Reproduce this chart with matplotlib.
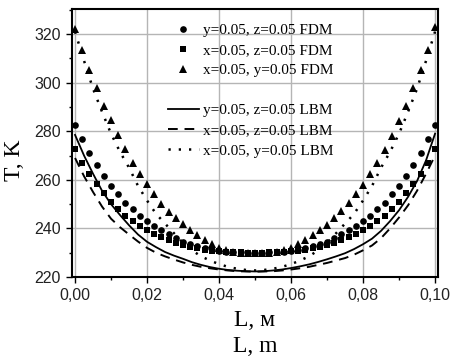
import matplotlib
matplotlib.use('Agg')
import matplotlib.pyplot as plt
import numpy as np
from matplotlib.lines import Line2D
from matplotlib.ticker import FuncFormatter, MultipleLocator

# FDM points, step 0.002 m
L_FDM = np.linspace(0.0, 0.1, 51)
T_FDM_YZ = [282.5, 276.7, 271.0, 266.1, 261.6, 257.6, 254.3, 250.6, 247.8, 245.3,
            242.9, 241.2, 239.2, 237.6, 235.9, 234.6, 233.5, 232.6, 231.9, 231.3,
            230.8, 230.5, 230.2, 230.1, 230.0, 230.0, 230.0, 230.1, 230.2, 230.5,
            230.8, 231.3, 231.9, 232.6, 233.5, 234.6, 235.9, 237.6, 239.2, 241.2,
            242.9, 245.3, 247.8, 250.6, 254.3, 257.6, 261.6, 266.1, 271.0, 276.7, 282.5]
T_FDM_XZ = [272.7, 266.9, 262.4, 258.4, 254.7, 251.0, 247.8, 245.3, 242.9, 240.8,
            239.2, 237.8, 236.4, 235.2, 234.1, 233.2, 232.4, 231.8, 231.3, 230.9,
            230.6, 230.4, 230.2, 230.1, 230.0, 230.0, 230.0, 230.1, 230.2, 230.4,
            230.6, 230.9, 231.3, 231.8, 232.4, 233.2, 234.1, 235.2, 236.4, 237.8,
            239.2, 240.8, 242.9, 245.3, 247.8, 251.0, 254.7, 258.4, 262.4, 266.9, 272.7]
T_FDM_XY = [322.0, 313.5, 305.3, 298.0, 290.6, 284.5, 278.4, 272.7, 267.0, 262.4,
            258.2, 254.3, 250.2, 246.9, 244.1, 241.9, 239.5, 237.4, 235.4, 233.7,
            232.1, 231.0, 230.3, 230.0, 229.8, 229.7, 229.8, 230.0, 230.3, 231.0,
            232.1, 233.7, 235.4, 237.4, 239.5, 241.6, 244.4, 247.3, 250.3, 254.2,
            258.0, 262.3, 267.0, 272.2, 278.0, 284.1, 290.6, 298.0, 305.3, 313.5, 323.0]

# LBM curves, step 0.0025 m
L_LBM = np.linspace(0.0, 0.1, 41)
T_LBM_YZ = [278.5, 270.0, 262.5, 255.5, 250.0, 245.5, 241.3, 237.5, 234.5, 232.3,
            230.3, 228.8, 227.5, 226.1, 225.0, 224.1, 223.4, 222.9, 222.6, 222.4,
            222.3, 222.4, 222.7, 223.1, 223.7, 224.4, 225.2, 226.2, 227.3, 228.5,
            229.8, 231.5, 233.5, 235.8, 239.0, 243.0, 247.5, 253.0, 259.5, 268.0, 279.0]
T_LBM_XZ = [269.0, 261.5, 255.0, 249.0, 244.0, 240.5, 237.5, 234.6, 232.0, 230.0,
            228.5, 227.2, 226.0, 225.0, 224.2, 223.6, 223.1, 222.7, 222.4, 222.3,
            222.2, 222.3, 222.4, 222.7, 223.1, 223.6, 224.2, 225.0, 225.8, 226.8,
            227.8, 229.2, 231.0, 233.0, 236.0, 240.0, 244.5, 249.5, 255.5, 262.5, 270.0]
T_LBM_XY = [321.0, 309.0, 297.5, 288.0, 279.0, 271.5, 265.0, 257.5, 251.5, 246.0,
            242.0, 238.0, 234.0, 231.0, 228.5, 226.8, 225.3, 224.2, 223.4, 222.9,
            222.7, 222.9, 223.4, 224.2, 225.3, 226.8, 228.5, 231.0, 234.0, 238.0,
            242.0, 246.0, 251.5, 257.5, 265.0, 271.5, 279.0, 288.0, 297.5, 309.0, 321.0]

FDM_LABELS = ['y=0.05, z=0.05 FDM', 'x=0.05, z=0.05 FDM', 'x=0.05, y=0.05 FDM']
LBM_LABELS = ['y=0.05, z=0.05 LBM', 'x=0.05, z=0.05 LBM', 'x=0.05, y=0.05 LBM']

SERIF = 'Liberation Serif'
SANS = 'Liberation Sans'

fig = plt.figure(figsize=(4.51, 3.57), dpi=100)
ax = fig.add_axes([0.160, 0.224, 0.811, 0.752])

ax.plot(L_FDM, T_FDM_YZ, 'o', color='black', ms=4.8, mew=0, label=FDM_LABELS[0], zorder=3)
ax.plot(L_FDM, T_FDM_XZ, 's', color='black', ms=4.2, mew=0, label=FDM_LABELS[1], zorder=3)
ax.plot(L_FDM, T_FDM_XY, '^', color='black', ms=5.6, mew=0, label=FDM_LABELS[2], zorder=3)
ax.plot(L_LBM, T_LBM_YZ, '-', color='black', lw=1.3, label=LBM_LABELS[0], zorder=2)
ax.plot(L_LBM, T_LBM_XZ, color='black', lw=1.4, linestyle=(0, (5, 3.5)), label=LBM_LABELS[1], zorder=2)
ax.plot(L_LBM, T_LBM_XY, color='black', lw=1.8, linestyle=(0, (0.9, 3.2)), label=LBM_LABELS[2], zorder=2)

ax.set_xlim(-0.0008, 0.1008)
ax.set_ylim(220, 330.5)
ax.xaxis.set_major_locator(MultipleLocator(0.02))
ax.xaxis.set_minor_locator(MultipleLocator(0.01))
ax.yaxis.set_major_locator(MultipleLocator(20))
ax.yaxis.set_minor_locator(MultipleLocator(10))
ax.xaxis.set_major_formatter(FuncFormatter(lambda v, p: f'{v:.2f}'.replace('.', ',')))
ax.grid(True, which='major', color='#b5b5b5', lw=1.0, zorder=0)
ax.set_axisbelow(True)

ax.tick_params(which='major', direction='out', length=4, width=1.0, labelsize=11.5,
               labelcolor='#222222', pad=4)
ax.tick_params(which='minor', direction='out', length=2.5, width=1.0)
for lab in ax.get_xticklabels() + ax.get_yticklabels():
    lab.set_family(SANS)
for sp in ax.spines.values():
    sp.set_linewidth(1.5)

ax.set_ylabel('T, K', family=SERIF, fontsize=17)
ax.yaxis.set_label_coords(-0.128, 0.436)
ax.set_xlabel('L, м\nL, m', family=SERIF, fontsize=17, linespacing=1.3, labelpad=5)

handles, labels = ax.get_legend_handles_labels()
blank = Line2D([], [], linestyle='none')
handles = handles[:3] + [blank] + handles[3:]
labels = labels[:3] + [''] + labels[3:]
ax.legend(handles, labels, loc='upper left', bbox_to_anchor=(0.262, 0.945), frameon=False,
          prop={'family': SERIF, 'size': 11}, numpoints=1, handlelength=2.0,
          handletextpad=0.3, labelspacing=0.42, borderpad=0, borderaxespad=0)

fig.savefig('out.png', dpi=100)
